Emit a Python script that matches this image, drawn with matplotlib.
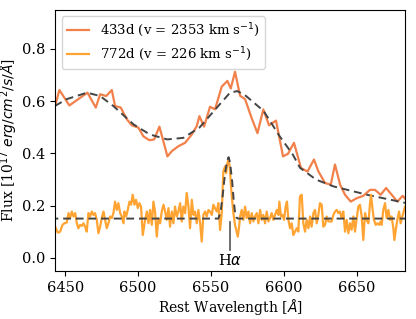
import matplotlib
matplotlib.use("Agg")
import matplotlib.pyplot as plt

plt.rcParams['font.family'] = 'DejaVu Serif'
plt.rcParams['mathtext.fontset'] = 'dejavusans'

# 433d spectrum
wave_433 = [6443.2, 6446.1, 6452.9, 6465.3, 6471.0, 6474.0, 6478.1, 6482.0, 6484.2, 6488.1,
            6492.3, 6495.7, 6500.2, 6503.6, 6507.7, 6511.0, 6514.6, 6520.1, 6523.1, 6527.6,
            6532.2, 6536.8, 6540.2, 6542.0, 6545.2, 6549.3, 6552.7, 6557.3, 6561.2, 6563.5,
            6566.4, 6569.9, 6573.3, 6577.7, 6581.8, 6585.8, 6589.7, 6594.5, 6599.3, 6602.7,
            6606.8, 6611.6, 6616.1, 6620.5, 6623.5, 6628.1, 6632.0, 6634.9, 6638.4, 6641.8,
            6645.7, 6649.8, 6654.3, 6658.9, 6662.3, 6666.2, 6669.9, 6673.8, 6677.6, 6681.3,
            6683.6]
flux_433 = [0.583, 0.642, 0.583, 0.632, 0.575, 0.626, 0.619, 0.642, 0.581, 0.575,
            0.530, 0.507, 0.498, 0.465, 0.450, 0.453, 0.502, 0.388, 0.408, 0.427,
            0.440, 0.472, 0.504, 0.542, 0.502, 0.578, 0.568, 0.655, 0.677, 0.648,
            0.712, 0.620, 0.607, 0.536, 0.477, 0.568, 0.507, 0.525, 0.388, 0.398,
            0.440, 0.344, 0.330, 0.376, 0.331, 0.286, 0.280, 0.357, 0.280, 0.241,
            0.215, 0.228, 0.237, 0.260, 0.260, 0.241, 0.267, 0.241, 0.215, 0.237,
            0.222]

# 433d fit
fit_wave_433 = [6443, 6451, 6465, 6474, 6483, 6497, 6508, 6520, 6531, 6542, 6554,
                6563, 6568, 6574, 6586, 6597, 6606, 6611, 6622, 6634, 6657, 6684]
fit_flux_433 = [0.581, 0.607, 0.632, 0.619, 0.581, 0.510, 0.472, 0.453, 0.459, 0.498, 0.575,
                0.632, 0.638, 0.619, 0.562, 0.465, 0.395, 0.344, 0.299, 0.273, 0.241, 0.209]

# 772d spectrum
wave_772 = [6443.2, 6445.0, 6446.6, 6448.2, 6449.5, 6451.1, 6452.3, 6453.4, 6454.6, 6455.7,
            6456.9, 6458.0, 6459.1, 6460.3, 6461.4, 6462.6, 6463.7, 6464.8, 6466.0, 6467.1,
            6468.3, 6469.4, 6470.5, 6471.7, 6472.8, 6474.0, 6475.1, 6476.3, 6477.4, 6478.5,
            6479.7, 6480.8, 6482.0, 6483.1, 6484.2, 6485.4, 6486.5, 6487.7, 6488.8, 6490.0,
            6490.6, 6491.8, 6492.9, 6494.1, 6495.2, 6496.3, 6497.5, 6498.6, 6499.8, 6500.9,
            6502.0, 6503.2, 6504.8, 6506.0, 6507.1, 6508.2, 6509.4, 6510.5, 6511.6, 6512.8,
            6513.9, 6515.1, 6516.2, 6517.4, 6518.5, 6519.6, 6520.8, 6521.9, 6523.1, 6524.2,
            6525.3, 6526.5, 6527.6, 6528.8, 6529.9, 6531.0, 6532.2, 6533.3, 6534.5, 6535.6,
            6536.8, 6537.9, 6539.0, 6540.2, 6541.3, 6542.5, 6543.6, 6544.7, 6545.9, 6547.0,
            6548.2, 6549.3, 6550.5, 6551.6, 6552.7, 6553.9, 6555.0, 6556.2, 6557.3, 6558.4,
            6559.6, 6560.3, 6561.2, 6562.1, 6562.9, 6563.5, 6564.2, 6565.3, 6566.4, 6568.3,
            6569.2, 6569.9, 6571.0, 6572.1, 6573.3, 6574.4, 6575.6, 6576.7, 6577.9, 6579.0,
            6580.1, 6581.3, 6582.4, 6583.6, 6584.7, 6585.8, 6587.0, 6588.1, 6589.3, 6590.4,
            6591.5, 6592.7, 6593.8, 6595.0, 6596.1, 6596.8, 6597.9, 6598.9, 6600.0, 6601.1,
            6602.0, 6603.0, 6604.1, 6605.2, 6606.4, 6607.5, 6608.7, 6609.8, 6610.9, 6612.1,
            6613.2, 6614.4, 6615.5, 6616.7, 6617.8, 6618.9, 6620.1, 6621.2, 6622.4, 6623.5,
            6624.6, 6625.8, 6626.9, 6628.1, 6629.2, 6630.4, 6631.5, 6632.6, 6633.8, 6634.9,
            6636.1, 6637.2, 6638.3, 6639.5, 6640.6, 6641.8, 6642.9, 6644.1, 6645.2, 6646.3,
            6647.5, 6648.6, 6649.8, 6650.9, 6652.0, 6653.2, 6654.3, 6655.5, 6656.6, 6657.8,
            6658.9, 6659.6, 6660.7, 6661.6, 6662.8, 6663.9, 6665.1, 6666.2, 6666.9, 6668.0,
            6669.2, 6670.3, 6671.5, 6672.6, 6673.7, 6674.9, 6675.6, 6676.7, 6677.6, 6678.8,
            6679.9, 6681.0, 6681.7, 6682.9, 6684.0]
flux_772 = [0.119, 0.096, 0.100, 0.126, 0.132, 0.135, 0.171, 0.152, 0.177, 0.158,
            0.171, 0.132, 0.113, 0.126, 0.122, 0.132, 0.119, 0.100, 0.171, 0.158,
            0.177, 0.164, 0.171, 0.145, 0.094, 0.119, 0.152, 0.177, 0.145, 0.113,
            0.132, 0.158, 0.152, 0.171, 0.215, 0.183, 0.209, 0.171, 0.158, 0.132,
            0.177, 0.158, 0.183, 0.215, 0.203, 0.241, 0.203, 0.222, 0.190, 0.209,
            0.196, 0.087, 0.145, 0.177, 0.132, 0.183, 0.126, 0.215, 0.177, 0.081,
            0.151, 0.132, 0.177, 0.203, 0.177, 0.145, 0.190, 0.119, 0.177, 0.132,
            0.196, 0.158, 0.177, 0.209, 0.139, 0.196, 0.171, 0.248, 0.196, 0.113,
            0.222, 0.164, 0.177, 0.132, 0.183, 0.132, 0.062, 0.164, 0.177, 0.158,
            0.183, 0.177, 0.164, 0.203, 0.190, 0.177, 0.209, 0.106, 0.171, 0.331,
            0.350, 0.324, 0.363, 0.376, 0.340, 0.286, 0.235, 0.171, 0.126, 0.081,
            0.119, 0.158, 0.183, 0.145, 0.196, 0.152, 0.177, 0.132, 0.171, 0.139,
            0.158, 0.171, 0.132, 0.183, 0.145, 0.164, 0.132, 0.177, 0.139, 0.152,
            0.171, 0.145, 0.164, 0.183, 0.164, 0.215, 0.158, 0.164, 0.145, 0.196,
            0.215, 0.145, 0.113, 0.132, 0.087, 0.100, 0.113, 0.100, 0.235, 0.241,
            0.132, 0.100, 0.145, 0.113, 0.158, 0.119, 0.171, 0.183, 0.132, 0.164,
            0.209, 0.203, 0.119, 0.126, 0.158, 0.139, 0.139, 0.139, 0.164, 0.177,
            0.183, 0.171, 0.177, 0.152, 0.177, 0.100, 0.145, 0.094, 0.132, 0.107,
            0.158, 0.100, 0.152, 0.196, 0.203, 0.158, 0.068, 0.171, 0.145, 0.132,
            0.209, 0.241, 0.183, 0.145, 0.126, 0.132, 0.126, 0.139, 0.126, 0.183,
            0.209, 0.152, 0.183, 0.145, 0.158, 0.113, 0.068, 0.113, 0.145, 0.177,
            0.132, 0.158, 0.171, 0.196, 0.200]

# 772d fit
fit_wave_772 = [6440, 6500, 6555, 6556.5, 6558, 6559.5, 6561, 6562, 6563, 6564.5,
                6565.5, 6566.5, 6567.5, 6568.5, 6620, 6690]
fit_flux_772 = [0.150, 0.150, 0.150, 0.175, 0.240, 0.320, 0.372, 0.385, 0.365, 0.290,
                0.220, 0.170, 0.153, 0.150, 0.150, 0.150]

labels = ['433d (v = 2353 km s$^{-1}$)', '772d (v = 226 km s$^{-1}$)']
colors = ['#F2804A', '#FFA433']
halpha = 6563

fig = plt.figure(figsize=(4.16, 3.19), dpi=100)
ax = fig.add_axes([0.132, 0.151, 0.842, 0.819])

ax.plot(wave_433, flux_433, color=colors[0], lw=1.6, label=labels[0])
ax.plot(fit_wave_433, fit_flux_433, color='#444444', ls=(0, (4, 2.5)), lw=1.4)
ax.plot(wave_772, flux_772, color=colors[1], lw=1.6, label=labels[1])
ax.plot(fit_wave_772, fit_flux_772, color='#444444', ls=(0, (4, 2.5)), lw=1.4)

ax.plot([halpha, halpha], [0.03, 0.138], color='#555555', lw=1.2)
ax.text(halpha, -0.01, r'H$\alpha$', ha='center', va='center', fontsize=10.5)

ax.set_xlim(6443, 6683)
ax.set_ylim(-0.05, 0.95)
ax.set_xticks([6450, 6500, 6550, 6600, 6650])
ax.set_yticks([0.0, 0.2, 0.4, 0.6, 0.8])
ax.tick_params(labelsize=10.5)
ax.set_xlabel(r'Rest Wavelength [$\AA$]', fontsize=10, labelpad=2)
ax.set_ylabel(r'Flux [10$^{17}$ $erg/cm^2/s/\AA$]', fontsize=10, labelpad=1)
ax.legend(loc='upper left', fontsize=9.5, handlelength=1.7)

fig.savefig('out.png', dpi=100)
